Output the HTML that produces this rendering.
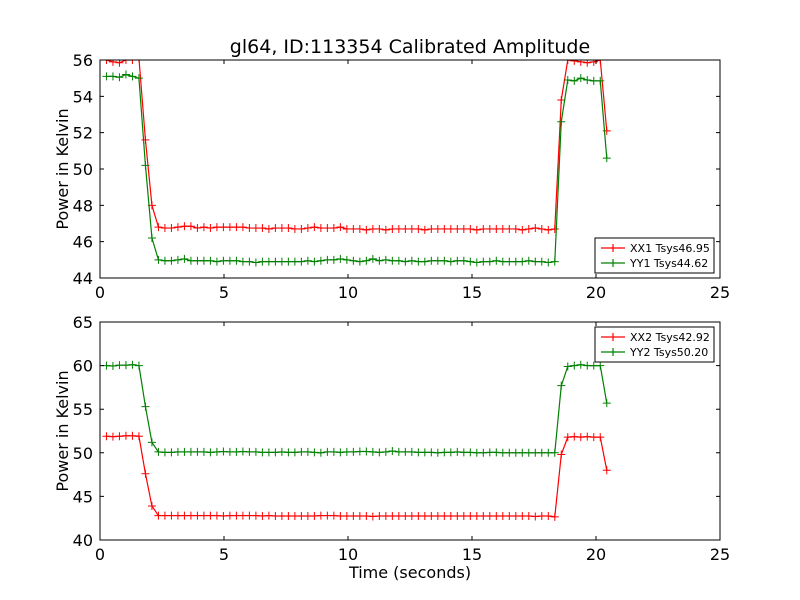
<!DOCTYPE html>
<html><head><meta charset="utf-8"><style>
body{margin:0;background:#fff;}
svg{display:block;font-family:"DejaVu Sans","Liberation Sans",sans-serif;}
</style></head><body>
<svg id="fig" width="800" height="600" viewBox="0 0 800 600">
<rect width="800" height="600" fill="#fff"/>
<text x="410" y="53" font-size="19" text-anchor="middle">gl64, ID:113354 Calibrated Amplitude</text>
<text x="410" y="578" font-size="16" text-anchor="middle">Time (seconds)</text>
</svg>
<script>
const xTicks=[0,5,10,15,20,25];
const topYTicks=[44,46,48,50,52,54,56];
const botYTicks=[40,45,50,55,60,65];
const t0=0.26, dt=0.262;
const xx1=[56.0,55.9,55.85,56.0,56.0,56.1,51.6,48.0,
46.8,46.75,46.75,46.8,46.85,46.85,46.75,46.8,46.75,46.8,
46.8,46.8,46.8,46.8,46.75,46.75,46.75,46.7,46.75,46.75,
46.75,46.7,46.7,46.75,46.8,46.75,46.75,46.75,46.8,46.7,
46.7,46.7,46.65,46.7,46.7,46.65,46.7,46.7,46.7,46.7,
46.7,46.65,46.7,46.7,46.7,46.7,46.7,46.7,46.7,46.65,
46.7,46.7,46.7,46.7,46.7,46.7,46.65,46.7,46.75,46.7,
46.65,46.7,53.8,56.0,55.95,55.9,55.85,55.9,56.0,52.1];
const yy1=[55.1,55.1,55.05,55.2,55.1,55.0,50.2,46.2,
45.0,44.95,44.95,45.0,45.05,44.95,44.95,44.95,44.95,44.9,
44.95,44.95,44.95,44.9,44.9,44.85,44.9,44.9,44.9,44.9,
44.9,44.9,44.9,44.95,44.9,44.95,45.0,45.0,45.05,45.0,
44.95,44.9,44.95,45.05,44.95,45.0,44.95,44.95,44.9,44.95,
44.9,44.9,44.95,44.95,44.95,44.9,44.95,44.95,44.9,44.85,
44.9,44.9,44.95,44.9,44.9,44.9,44.9,44.95,44.9,44.9,
44.85,44.9,52.6,54.9,54.85,55.0,54.9,54.85,54.85,50.6];
const xx2=[51.9,51.85,51.9,51.95,51.95,51.9,47.6,43.9,
42.8,42.8,42.8,42.8,42.8,42.8,42.8,42.8,42.8,42.8,
42.75,42.8,42.8,42.8,42.8,42.8,42.75,42.8,42.75,42.75,
42.75,42.75,42.75,42.75,42.75,42.8,42.8,42.8,42.75,42.75,
42.75,42.75,42.75,42.7,42.75,42.75,42.75,42.75,42.75,42.75,
42.75,42.75,42.75,42.75,42.75,42.75,42.75,42.75,42.75,42.75,
42.75,42.75,42.75,42.75,42.75,42.75,42.75,42.75,42.7,42.75,
42.75,42.65,49.8,51.8,51.85,51.8,51.85,51.8,51.8,48.0];
const yy2=[60.0,59.95,60.05,60.05,60.1,60.0,55.3,51.2,
50.1,50.05,50.05,50.1,50.1,50.1,50.1,50.1,50.05,50.1,
50.15,50.1,50.1,50.15,50.1,50.1,50.05,50.05,50.05,50.1,
50.05,50.05,50.1,50.1,50.05,50.0,50.1,50.1,50.05,50.1,
50.1,50.15,50.15,50.1,50.05,50.1,50.2,50.1,50.1,50.1,
50.05,50.05,50.05,50.0,50.05,50.05,50.1,50.05,50.05,50.0,
50.0,50.05,50.05,50.0,50.0,50.0,50.0,50.0,50.0,50.0,
50.0,50.0,57.7,59.9,60.0,60.1,60.0,60.0,60.0,55.7];
const topLegend=["XX1 Tsys46.95","YY1 Tsys44.62"];
const botLegend=["XX2 Tsys42.92","YY2 Tsys50.20"];

const NS="http://www.w3.org/2000/svg";
const svg=document.getElementById('fig');
function mk(tag,attrs,parent){const e=document.createElementNS(NS,tag);for(const k in attrs)e.setAttribute(k,attrs[k]);(parent||svg).appendChild(e);return e;}

function panel(name,top,yMin,yMax,yTicks,series,legend,legTop){
  const L=100,R=720,T=top,B=top+218;
  const X=v=>L+(v-0)/25*(R-L);
  const Y=v=>B-(v-yMin)/(yMax-yMin)*(B-T);
  const g=mk('g',{});
  
  
  const cid=name+'-clip';
  const cp=mk('clipPath',{id:cid},g);mk('rect',{x:L,y:T,width:R-L,height:B-T},cp);
  series.forEach(s=>{
    const sg=mk('g',{'clip-path':'url(#'+cid+')'},g);
    
    
    const pts=s.vals.map((v,i)=>[X(t0+i*dt),Y(v)]);
    const pl=mk('polyline',{points:pts.map(p=>p.join(',')).join(' '),fill:'none',stroke:s.color,'stroke-width':1.2},sg);
    
    
    pts.forEach(p=>{
      const m=mk('path',{d:`M${p[0]-4},${p[1]}h8M${p[0]},${p[1]-4}v8`,stroke:s.color,'stroke-width':1},sg);
      
      
    });
  });
  const fr=mk('rect',{x:L,y:T,width:R-L,height:B-T,fill:'none',stroke:'#000','stroke-width':1},g);
  
  
  xTicks.forEach(v=>{
    const x=X(v);
    mk('path',{d:`M${x},${B}v-4M${x},${T}v4`,stroke:'#000'},g);
    const t=mk('text',{x:x,y:B+20,'font-size':16,'text-anchor':'middle'},g);
    t.textContent=v;
    
    
  });
  yTicks.forEach(v=>{
    const y=Y(v);
    mk('path',{d:`M${L},${y}h4M${R},${y}h-4`,stroke:'#000'},g);
    const t=mk('text',{x:L-7,y:y+6,'font-size':16,'text-anchor':'end'},g);
    t.textContent=v;
    
    
  });
  const yl=mk('text',{x:0,y:0,'font-size':16,'text-anchor':'middle',transform:`translate(68,${(T+B)/2}) rotate(-90)`},g);
  yl.textContent='Power in Kelvin';
  
  
  const lg=mk('g',{},g);
  
  
  mk('rect',{x:595,y:legTop,width:119,height:35,fill:'#fff',stroke:'#000'},lg);
  legend.forEach((txt,i)=>{
    const y=legTop+10+i*15;
    const c=series[i].color;
    mk('path',{d:`M601,${y}h24M613,${y-4}v8`,stroke:c,'stroke-width':1.2},lg);
    const t=mk('text',{x:630,y:y+4,'font-size':11},lg);
    t.textContent=txt;
    
    
  });
}
panel('top',60,44,56,topYTicks,[{name:'xx1-series',vals:xx1,color:'#ff0000'},{name:'yy1-series',vals:yy1,color:'#008000'}],topLegend,238);
panel('bottom',322,40,65,botYTicks,[{name:'xx2-series',vals:xx2,color:'#ff0000'},{name:'yy2-series',vals:yy2,color:'#008000'}],botLegend,327);
</script>
</body></html>
